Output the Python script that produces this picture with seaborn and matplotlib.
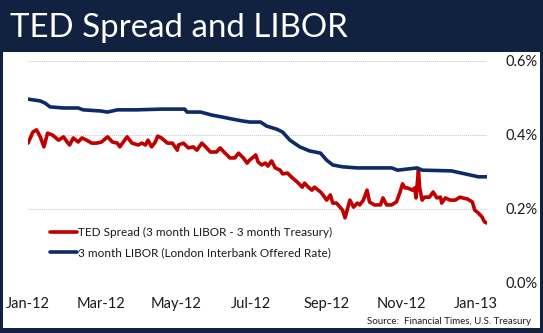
import matplotlib
matplotlib.use("Agg")
import matplotlib.pyplot as plt
import matplotlib.patches as mpatches
import numpy as np
import pandas as pd
import seaborn as sns

# ---- data (day offsets from 2012-01-01, values in %) ----
ted_days = [0, 4, 7, 10, 13, 16, 20, 25, 29, 32, 34, 37, 41, 44, 48, 52, 56, 60, 65, 69,
            73, 75, 81, 85, 90, 93, 96, 98, 101, 104, 106, 109, 114, 118, 122, 123, 127,
            131, 135, 138, 142, 146, 149, 154, 157, 161, 165, 169, 172, 176, 179, 181,
            184, 186, 188, 191, 194, 196, 199, 202, 206, 208, 212, 216, 220, 224, 226,
            229, 232, 234, 239, 241, 244, 247, 249, 252, 257, 259, 263, 266, 269, 271,
            274, 277, 279, 283, 288, 290, 293, 297, 301, 304, 306, 308, 310, 314, 316,
            317, 319, 320, 322, 324, 328, 331, 334, 337, 338, 341, 345, 349, 353, 355,
            359, 363, 365, 368, 371, 373, 375]
ted_vals = [0.378, 0.408, 0.414, 0.395, 0.368, 0.405, 0.400, 0.386, 0.395, 0.381, 0.373,
            0.392, 0.381, 0.392, 0.386, 0.378, 0.378, 0.381, 0.395, 0.381, 0.378, 0.368,
            0.395, 0.378, 0.373, 0.378, 0.373, 0.386, 0.368, 0.381, 0.397, 0.392, 0.378,
            0.378, 0.359, 0.373, 0.378, 0.365, 0.368, 0.359, 0.378, 0.365, 0.354, 0.354,
            0.365, 0.351, 0.338, 0.338, 0.351, 0.338, 0.324, 0.332, 0.340, 0.346, 0.327,
            0.319, 0.324, 0.316, 0.330, 0.311, 0.305, 0.295, 0.297, 0.284, 0.273, 0.259,
            0.270, 0.259, 0.251, 0.259, 0.246, 0.238, 0.224, 0.238, 0.216, 0.216, 0.197,
            0.176, 0.224, 0.205, 0.216, 0.211, 0.224, 0.251, 0.219, 0.211, 0.211, 0.230,
            0.211, 0.211, 0.219, 0.246, 0.268, 0.257, 0.257, 0.251, 0.257, 0.230, 0.305,
            0.257, 0.224, 0.232, 0.232, 0.246, 0.230, 0.232, 0.216, 0.230, 0.224, 0.224,
            0.232, 0.230, 0.227, 0.219, 0.197, 0.189, 0.178, 0.165, 0.162]

libor_days = [0, 10, 14, 18, 29, 41, 45, 59, 65, 73, 89, 109, 128, 130, 141, 150, 158,
              167, 175, 181, 190, 195, 203, 208, 214, 222, 230, 239, 244, 249, 257, 269,
              297, 302, 318, 322, 346, 350, 357, 368, 375]
libor_vals = [0.497, 0.492, 0.486, 0.476, 0.473, 0.473, 0.468, 0.465, 0.462, 0.468, 0.468,
              0.470, 0.470, 0.462, 0.462, 0.454, 0.449, 0.443, 0.438, 0.435, 0.435, 0.424,
              0.416, 0.408, 0.386, 0.368, 0.357, 0.351, 0.332, 0.319, 0.314, 0.311, 0.311,
              0.305, 0.311, 0.305, 0.303, 0.300, 0.295, 0.287, 0.287]

series_labels = ["TED Spread (3 month LIBOR - 3 month Treasury)",
                 "3 month LIBOR (London Interbank Offered Rate)"]
x_tick_labels = ["Jan-12", "Mar-12", "May-12", "Jul-12", "Sep-12", "Nov-12", "Jan-13"]
x_tick_dates = ["2012-01-01", "2012-03-01", "2012-05-01", "2012-07-01",
                "2012-09-01", "2012-11-01", "2013-01-01"]
y_ticks = [0.0, 0.2, 0.4, 0.6]
y_tick_labels = ["0.0%", "0.2%", "0.4%", "0.6%"]

start = pd.Timestamp("2012-01-01")
ted = pd.DataFrame({"date": start + pd.to_timedelta(ted_days, unit="D"), "value": ted_vals})
libor = pd.DataFrame({"date": start + pd.to_timedelta(libor_days, unit="D"), "value": libor_vals})

sns.set_style("white")
plt.rcParams["font.family"] = ["Lato", "DejaVu Sans"]

NAVY_BG = "#10223f"
RED = "#c00000"
BLUE = "#0f2a66"

fig = plt.figure(figsize=(5.43, 3.33), dpi=100, facecolor=NAVY_BG)
# white panel
fig.patches.append(mpatches.Rectangle((3 / 543, 5 / 333), 537 / 543, 276 / 333,
                                      transform=fig.transFigure, facecolor="white",
                                      edgecolor="none", zorder=-5))
fig.text(10 / 543, 1 - 37 / 333, "TED Spread and LIBOR", color="white",
         fontsize=23.8, va="baseline", ha="left")

ax = fig.add_axes([28 / 543, 50 / 333, 459 / 543, 222 / 333])
ax.set_facecolor("none")
ax.set_zorder(2)

sns.lineplot(data=ted, x="date", y="value", ax=ax, color=RED, linewidth=2.6,
             label=series_labels[0])
sns.lineplot(data=libor, x="date", y="value", ax=ax, color=BLUE, linewidth=2.6,
             label=series_labels[1])

ax.set_xlim(start, start + pd.Timedelta(days=375))
ax.set_ylim(0, 0.6)
for yv in y_ticks:
    ax.axhline(yv, color="#c4c4c4", linewidth=0.7, linestyle=(0, (1, 1)), zorder=0)

ax.set_xticks(pd.to_datetime(x_tick_dates))
ax.set_xticklabels(x_tick_labels, fontsize=10.5, color="#1a1a1a")
ax.yaxis.tick_right()
ax.set_yticks(y_ticks)
ax.set_yticklabels(y_tick_labels, fontsize=10.5, color="#1a1a1a")
ax.tick_params(axis="x", length=0, pad=10)
ax.tick_params(axis="y", length=0, pad=13)
ax.set_xlabel("")
ax.set_ylabel("")
for s in ax.spines.values():
    s.set_visible(False)

leg = ax.legend(loc="upper left", bbox_to_anchor=(50 / 543, 1 - 227 / 333),
                bbox_transform=fig.transFigure, frameon=False, fontsize=8.5,
                handlelength=2.3, handletextpad=0.1, labelspacing=0.75,
                borderaxespad=0, borderpad=0)
for t in leg.get_texts():
    t.set_color("#1a1a1a")

fig.text(531 / 543, 1 - 322 / 333, "Source:  Financial Times, U.S. Treasury",
         fontsize=7, ha="right", va="center", color="#1a1a1a")

fig.savefig("out.png", dpi=100, facecolor=NAVY_BG)
